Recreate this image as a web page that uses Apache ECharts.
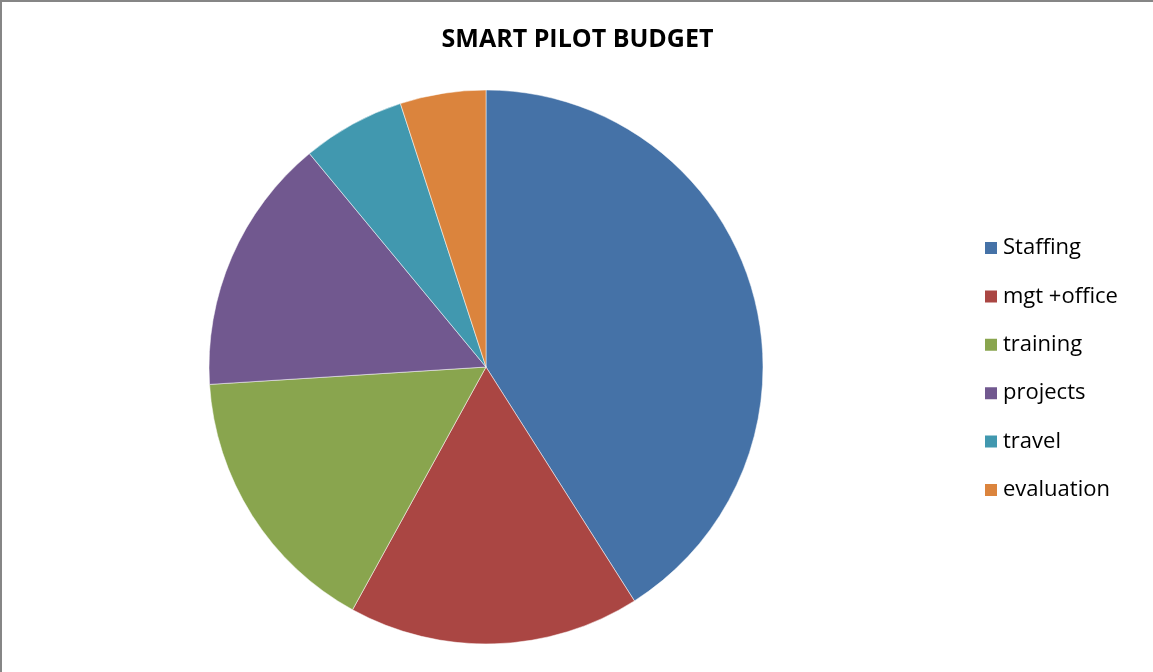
<!DOCTYPE html>
<html>
<head>
    <meta charset="utf-8" />
    <title>SMART PILOT BUDGET</title>
    <script src="https://cdn.jsdelivr.net/npm/echarts@6/dist/echarts.min.js"></script>
    <style>
        html, body { margin: 0; padding: 0; background: #fff; }
        #main { width: 1151px; height: 670px; border-left: 2px solid #868686; border-top: 2px solid #868686; }
    </style>
</head>
<body>
<div id="main"></div>
<script type="text/javascript">
    // budget shares (percent)
    var categories = ['Staffing', 'mgt +office', 'training', 'projects', 'travel', 'evaluation'];
    var shares = [41, 17, 16, 15, 6, 5];
    var colors = ['#4572A7', '#AA4643', '#89A54E', '#71588F', '#4198AF', '#DB843D'];

    var pieData = [];
    for (var i = 0; i < categories.length; i++) {
        pieData.push({ name: categories[i], value: shares[i] });
    }

    var myChart = echarts.init(document.getElementById('main'));
    var option = {
        animation: false,
        color: colors,
        title: {
            text: 'SMART PILOT BUDGET',
            left: 'center',
            top: 20,
            textStyle: { fontFamily: 'Open Sans', fontWeight: 'bold', fontSize: 25, color: '#000' }
        },
        legend: {
            orient: 'vertical',
            left: 976,
            top: 230,
            itemWidth: 14,
            itemHeight: 14,
            itemGap: 26.4,
            icon: 'rect',
            textStyle: { fontFamily: 'Open Sans', fontSize: 22, color: '#000' },
            data: categories
        },
        series: [
            {
                name: 'budget',
                type: 'pie',
                radius: 277,
                center: [484, 365],
                startAngle: 90,
                clockwise: true,
                label: { show: false },
                labelLine: { show: false },
                itemStyle: { borderColor: '#fff', borderWidth: 0.5 },
                emphasis: { disabled: true },
                data: pieData
            }
        ]
    };
    myChart.setOption(option);
</script>
</body>
</html>
